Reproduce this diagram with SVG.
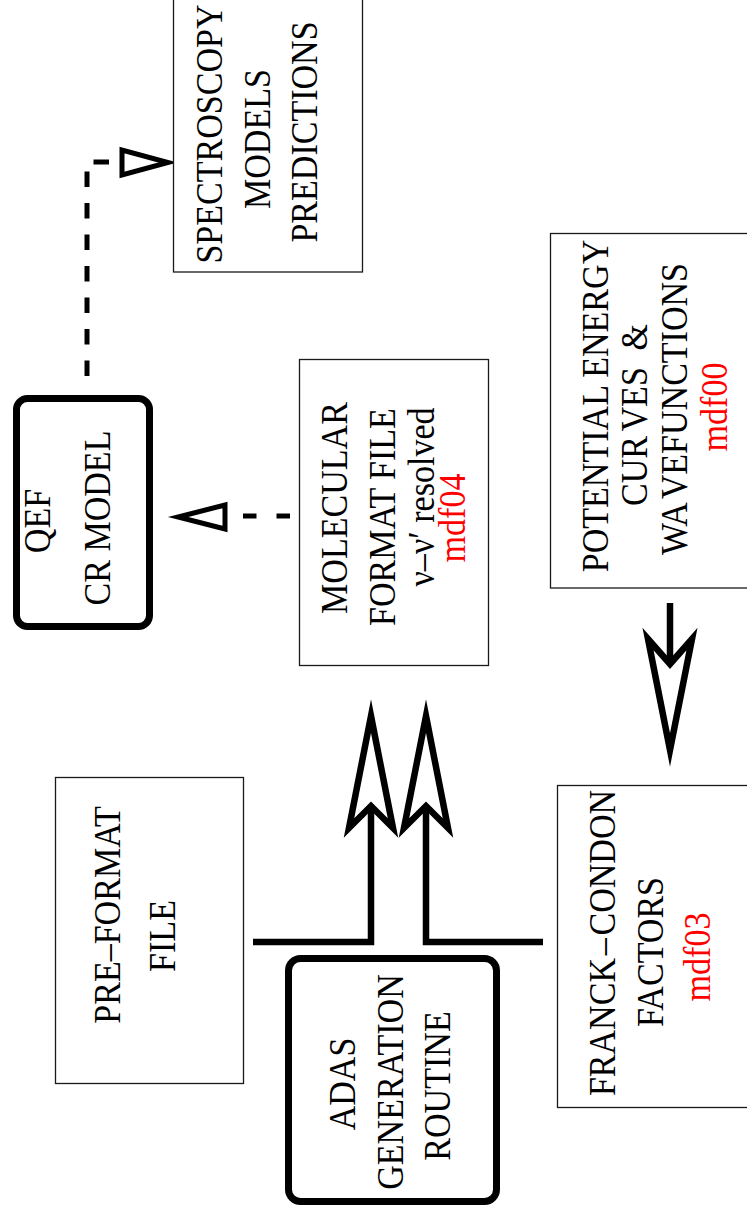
<svg xmlns="http://www.w3.org/2000/svg" width="747" height="1218" viewBox="0 0 747 1218">
  <style>
    .box { fill: #ffffff; stroke: #1a1a1a; stroke-width: 1.3; }
    .rbox { fill: #ffffff; stroke: #000000; stroke-width: 7; }
    .lbl { font-family: "Liberation Serif", "Times New Roman", serif; font-size: 37px; fill: #000000; text-anchor: middle; }
    .red { fill: #ff0000; }
    .dash { fill: none; stroke: #000000; stroke-width: 5; }
    .thick { fill: none; stroke: #000000; stroke-width: 6.5; stroke-linejoin: miter; }
    .head { fill: #ffffff; stroke: #000000; stroke-width: 6.5; stroke-miterlimit: 12; }
    .tri { fill: #ffffff; stroke: #000000; stroke-width: 5; stroke-miterlimit: 12; }
  </style>

  <rect width="747" height="1218" fill="#ffffff"/>

  <!-- connectors -->
  <g id="connectors">
    <!-- QEF model to spectroscopy (dashed, open triangle) -->
    <path class="dash" d="M87,376 V162 H120" stroke-dasharray="15.5 16"/>
    <polygon class="tri" points="122,150 122,175 168,162.5"/>
    <!-- molecular format file to QEF model (dashed, open triangle) -->
    <path class="dash" d="M290,516 H229" stroke-dasharray="13.5 20"/>
    <polygon class="tri" points="225,505 225,529 178,517"/>
    <!-- potential curves to Franck-Condon factors -->
    <path class="thick" d="M670,603 V664"/>
    <polygon class="head" points="648,639 670,664 692,639 670,750"/>
    <!-- pre-format file / ADAS routine to molecular format file -->
    <path class="thick" d="M253,942 H371 V806"/>
    <polygon class="head" points="371,716 393,828 371,806 349,828"/>
    <!-- Franck-Condon factors / ADAS routine to molecular format file -->
    <path class="thick" d="M543,942 H426 V806"/>
    <polygon class="head" points="426,716 448,828 426,806 404,828"/>
  </g>

  <!-- nodes (labels run bottom-to-top; glyphs narrowed to 92 %) -->
  <g id="spectroscopy">
    <rect class="box" x="173.5" y="-10" width="189" height="282"/>
    <text class="lbl" transform="translate(222,134) rotate(-90) scale(0.92,1)">SPECTROSCOPY</text>
    <text class="lbl" transform="translate(270,139) rotate(-90) scale(0.92,1)">MODELS</text>
    <text class="lbl" transform="translate(317,132) rotate(-90) scale(0.92,1)">PREDICTIONS</text>
  </g>

  <g id="qef-cr-model">
    <rect class="rbox" x="16.5" y="398.5" width="133" height="228" rx="11"/>
    <text class="lbl" transform="translate(50,521) rotate(-90) scale(0.92,1)">QEF</text>
    <text class="lbl" transform="translate(110,518) rotate(-90) scale(0.92,1)">CR MODEL</text>
  </g>

  <g id="molecular-format-file">
    <rect class="box" x="299.5" y="359.5" width="189" height="306"/>
    <text class="lbl" transform="translate(347,508) rotate(-90) scale(0.92,1)">MOLECULAR</text>
    <text class="lbl" transform="translate(395,517) rotate(-90) scale(0.92,1)">FORMAT FILE</text>
    <text class="lbl" transform="translate(434,497) rotate(-90) scale(0.92,1)">ν–ν′ resolved</text>
    <text class="lbl red" transform="translate(465,518) rotate(-90) scale(0.92,1)">mdf04</text>
  </g>

  <g id="potential-energy-curves">
    <rect class="box" x="550.5" y="233.5" width="210" height="354.5"/>
    <text class="lbl" transform="translate(608,406) rotate(-90) scale(0.92,1)">POTENTIAL ENERGY</text>
    <text class="lbl" transform="translate(647,415) rotate(-90) scale(0.92,1)">CUR<tspan dx="5">VES</tspan><tspan dx="9"> &amp;</tspan></text>
    <text class="lbl" transform="translate(687,409) rotate(-90) scale(0.92,1)">WA<tspan dx="3">VEFUNCTIONS</tspan></text>
    <text class="lbl red" transform="translate(727,407) rotate(-90) scale(0.92,1)">mdf00</text>
  </g>

  <g id="franck-condon-factors">
    <rect class="box" x="557.5" y="785.5" width="200" height="322"/>
    <text class="lbl" transform="translate(615,943) rotate(-90) scale(0.92,1)">FRANCK<tspan dx="3">–</tspan><tspan dx="3">CONDON</tspan></text>
    <text class="lbl" transform="translate(663,952) rotate(-90) scale(0.92,1)">FACTORS</text>
    <text class="lbl red" transform="translate(710,957) rotate(-90) scale(0.92,1)">mdf03</text>
  </g>

  <g id="pre-format-file">
    <rect class="box" x="55.5" y="777.5" width="188" height="306"/>
    <text class="lbl" transform="translate(120,915) rotate(-90) scale(0.92,1)">PRE–FORMAT</text>
    <text class="lbl" transform="translate(175,936) rotate(-90) scale(0.92,1)">FILE</text>
  </g>

  <g id="adas-generation-routine">
    <rect class="rbox" x="288.5" y="958.5" width="208" height="243" rx="12"/>
    <text class="lbl" transform="translate(355,1084) rotate(-90) scale(0.92,1)">ADAS</text>
    <text class="lbl" transform="translate(403,1082) rotate(-90) scale(0.92,1)">GENERATION</text>
    <text class="lbl" transform="translate(450,1086) rotate(-90) scale(0.92,1)">ROUTINE</text>
  </g>
</svg>
